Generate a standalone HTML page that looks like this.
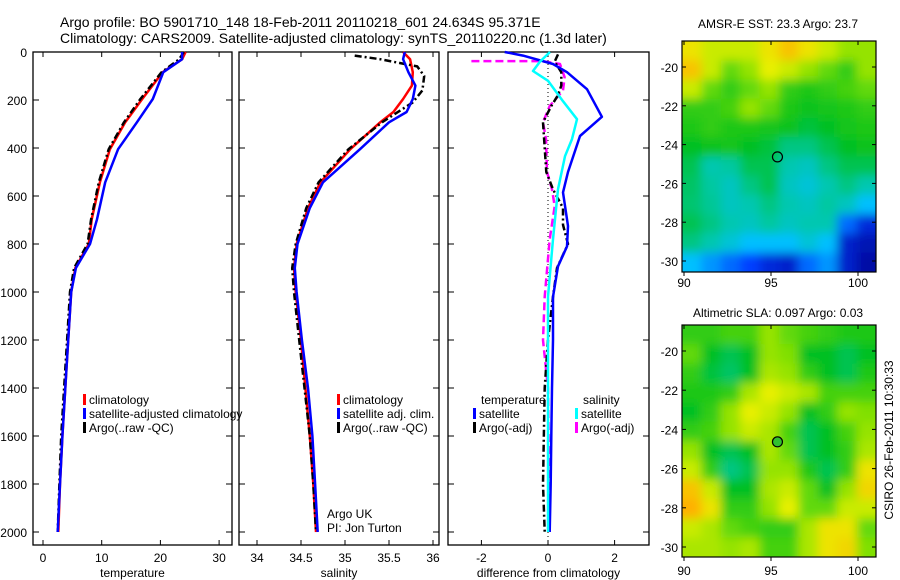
<!DOCTYPE html>
<html><head><meta charset="utf-8">
<style>
body{margin:0;background:#fff;}
svg{display:block;font-family:"Liberation Sans",sans-serif;}
text{fill:#000;}
</style></head>
<body>
<svg id="chart" width="900" height="580" xmlns="http://www.w3.org/2000/svg">
<defs>
<filter id="blur" x="-10%" y="-10%" width="120%" height="120%"><feGaussianBlur stdDeviation="5"/></filter>
<clipPath id="clip1"><rect x="682" y="41" width="194" height="231"/></clipPath>
<clipPath id="clip2"><rect x="682" y="325" width="194" height="232"/></clipPath>
</defs>
<text x="60" y="27" font-size="14">Argo profile: BO 5901710_148 18-Feb-2011 20110218_601 24.634S 95.371E</text>
<text x="60" y="43" font-size="14">Climatology: CARS2009. Satellite-adjusted climatology: synTS_20110220.nc (1.3d later)</text>
<text x="778" y="28" font-size="12" text-anchor="middle">AMSR-E SST: 23.3 Argo: 23.7</text>
<text x="778" y="317" font-size="12" text-anchor="middle">Altimetric SLA: 0.097 Argo: 0.03</text>
<text transform="translate(893,440) rotate(-90)" font-size="12" text-anchor="middle">CSIRO 26-Feb-2011 10:30:33</text>
<g id="plots"></g>
</svg>
<script>
const tDepth = [0,30,84,196,293,405,543,697,800,900,1000,1200,1400,1600,1800,2000];
const tempClim = [24.3,23.7,20.4,16.9,14.0,11.4,9.7,8.3,7.8,5.5,4.8,4.3,3.8,3.3,2.9,2.6];
const tempSat  = [23.7,23.7,20.5,18.7,16.0,12.8,10.6,9.2,8.0,5.6,4.8,4.3,3.8,3.3,2.9,2.5];
const tempArgo = [24.0,23.2,20.2,16.6,13.8,11.2,9.5,8.2,7.6,5.3,4.6,4.1,3.6,3.1,2.8,2.5];

const sDepth = [0,30,84,140,196,250,293,405,543,650,800,900,1000,1200,1400,1600,1800,2000];
const salClim = [35.66,35.74,35.77,35.76,35.66,35.55,35.40,35.06,34.72,34.58,34.45,34.42,34.44,34.50,34.55,34.60,34.64,34.67];
const salSat  = [35.68,35.66,35.72,35.80,35.77,35.70,35.50,35.17,34.75,34.60,34.46,34.43,34.45,34.51,34.58,34.63,34.66,34.69];
const aDepth = [15,30,60,100,160,210,293,405,543,650,800,900,1000,1200,1400,1600,1800,2000];
const salArgo = [35.11,35.40,35.82,35.90,35.88,35.77,35.42,35.04,34.70,34.56,34.44,34.40,34.42,34.48,34.54,34.60,34.64,34.67];

const dDepth = [0,15,50,84,155,270,350,500,585,725,810,893,1020,1200,1400,1600,1800,2000];
const dTempSat = [-1.3,-0.75,0.15,0.57,1.17,1.62,0.96,0.6,0.45,0.6,0.57,0.3,0.15,0.15,0.12,0.1,0.08,0.05];
const cDepth = [0,40,79,120,205,280,363,434,572,780,1020,1400,2000];
const dSalSat = [0.06,-0.24,-0.45,0.0,0.45,0.87,0.72,0.51,0.3,0.15,0.0,0.0,0.0];
const mDepth = [38,38,50,105,160,225,293,363,500,572,643,780,1020,1200,1400,2000];
const dSalArgo = [-2.3,-0.2,0.36,0.5,0.45,0.05,-0.15,-0.06,-0.03,0.12,0.2,0.05,-0.1,-0.15,0.0,0.05];
const kDepth = [10,40,84,140,180,225,293,400,500,572,650,720,800,900,1020,1200,1400,1800,2000];
const dTempArgo = [0.3,0.2,0.4,0.4,0.3,0.1,-0.15,-0.1,-0.05,0.15,0.45,0.45,0.6,0.27,0.15,0.0,-0.1,-0.15,-0.1];

const depthTicks = [0,200,400,600,800,1000,1200,1400,1600,1800,2000];
const tempTicks = [0,10,20,30];
const salTicks = [34,34.5,35,35.5,36];
const diffTicks = [-2,0,2];

const sstGrid = [
[0.8,0.75,0.75,0.75,0.8,0.85,0.8,0.75,0.7,0.7],
[0.85,0.75,0.65,0.7,0.78,0.75,0.7,0.65,0.6,0.7],
[0.75,0.65,0.6,0.65,0.7,0.6,0.58,0.6,0.62,0.65],
[0.6,0.6,0.62,0.7,0.65,0.58,0.56,0.57,0.58,0.6],
[0.58,0.6,0.58,0.58,0.57,0.56,0.52,0.55,0.57,0.58],
[0.55,0.56,0.57,0.55,0.52,0.45,0.45,0.5,0.55,0.56],
[0.5,0.4,0.42,0.5,0.5,0.4,0.38,0.45,0.5,0.5],
[0.48,0.42,0.38,0.45,0.5,0.38,0.35,0.4,0.45,0.4],
[0.47,0.43,0.38,0.4,0.45,0.4,0.38,0.42,0.38,0.3],
[0.5,0.45,0.4,0.38,0.42,0.38,0.4,0.4,0.2,0.1],
[0.45,0.4,0.35,0.3,0.3,0.3,0.35,0.3,0.08,0.05],
[0.3,0.25,0.2,0.15,0.1,0.08,0.2,0.25,0.08,0.03]];
const slaGrid = [
[0.6,0.6,0.62,0.62,0.7,0.65,0.62,0.6,0.58,0.58],
[0.65,0.55,0.5,0.55,0.7,0.68,0.55,0.55,0.5,0.55],
[0.6,0.52,0.48,0.55,0.72,0.7,0.6,0.55,0.5,0.58],
[0.58,0.58,0.6,0.72,0.78,0.75,0.72,0.62,0.62,0.62],
[0.55,0.6,0.7,0.78,0.75,0.7,0.55,0.6,0.7,0.68],
[0.6,0.62,0.7,0.75,0.72,0.62,0.5,0.55,0.62,0.7],
[0.7,0.55,0.5,0.55,0.72,0.65,0.5,0.55,0.6,0.72],
[0.75,0.6,0.45,0.5,0.7,0.7,0.58,0.5,0.6,0.8],
[0.85,0.75,0.55,0.55,0.72,0.75,0.65,0.55,0.7,0.82],
[0.88,0.8,0.6,0.6,0.7,0.78,0.65,0.65,0.75,0.75],
[0.75,0.72,0.65,0.62,0.6,0.6,0.72,0.8,0.8,0.65],
[0.72,0.72,0.7,0.72,0.62,0.62,0.72,0.8,0.82,0.68]];
const lonTicks = [90,95,100];
const latTicks = [-20,-22,-24,-26,-28,-30];
const argoLon = 95.371, argoLat = -24.634;

const NS = "http://www.w3.org/2000/svg";
const root = document.getElementById('plots');
function mk(tag, attrs, parent){
  const e = document.createElementNS(NS, tag);
  for (const k in attrs) e.setAttribute(k, attrs[k]);
  (parent||root).appendChild(e);
  return e;
}
const top0 = 52, bot0 = 545;
const yD = d => 52 + d * 0.24;

function panel(name, x0, x1, xScale, ticks, label, depthLabels){
  const g = mk('g', {});
  
  
  const fr = mk('rect', {x:x0, y:top0, width:x1-x0, height:bot0-top0, fill:'none', stroke:'#000', 'stroke-width':1.3}, g);
  
  
  depthTicks.forEach(d => {
    const y = yD(d);
    mk('line', {x1:x0, x2:x0+6, y1:y, y2:y, stroke:'#000'}, g);
    mk('line', {x1:x1-6, x2:x1, y1:y, y2:y, stroke:'#000'}, g);
    if (depthLabels) {
      const t = mk('text', {x:x0-6, y:y+5, 'font-size':12, 'text-anchor':'end'}, g);
      t.textContent = d;
      
      
    }
  });
  ticks.forEach(v => {
    const x = xScale(v);
    mk('line', {x1:x, x2:x, y1:top0, y2:top0+5, stroke:'#000'}, g);
    mk('line', {x1:x, x2:x, y1:bot0-5, y2:bot0, stroke:'#000'}, g);
    const t = mk('text', {x:x, y:562, 'font-size':12, 'text-anchor':'middle'}, g);
    t.textContent = v;
    
    
  });
  const lt = mk('text', {x:(x0+x1)/2, y:577, 'font-size':12, 'text-anchor':'middle'}, g);
  lt.textContent = label;
  
  
  return g;
}
function line(g, name, xs, ds, xScale, color, dash, w){
  const pts = xs.map((v,i) => xScale(v).toFixed(1) + ',' + yD(ds[i]).toFixed(1)).join(' ');
  const p = mk('polyline', {points:pts, fill:'none', stroke:color, 'stroke-width':w||2.5, 'stroke-linejoin':'round'}, g);
  if (dash) p.setAttribute('stroke-dasharray', dash);
  
  
}
function legend(g, x, y, color, label, name){
  const b = mk('rect', {x:x, y:y-10, width:3, height:11, fill:color}, g);
  
  
  const t = mk('text', {x:x+6, y:y, 'font-size':12}, g);
  t.textContent = label;
  
  
}
const DASH = '7,3,2,3';

const xT = v => 43 + v * 5.87;
const g1 = panel('temperature-panel', 33, 232, xT, tempTicks, 'temperature', true);
line(g1, 'temp-climatology-line', tempClim, tDepth, xT, '#f00');
line(g1, 'temp-argo-line', tempArgo, tDepth, xT, '#000', DASH);
line(g1, 'temp-satellite-line', tempSat, tDepth, xT, '#00f');
legend(g1, 83, 404, '#f00', 'climatology', 'legend-climatology');
legend(g1, 83, 418, '#00f', 'satellite-adjusted climatology', 'legend-satellite');
legend(g1, 83, 432, '#000', 'Argo(..raw -QC)', 'legend-argo');

const xS = v => 257 + (v - 34) * 88;
const g2 = panel('salinity-panel', 239, 439, xS, salTicks, 'salinity', false);
line(g2, 'sal-climatology-line', salClim, sDepth, xS, '#f00');
line(g2, 'sal-argo-line', salArgo, aDepth, xS, '#000', DASH);
line(g2, 'sal-satellite-line', salSat, sDepth, xS, '#00f');
legend(g2, 337, 404, '#f00', 'climatology', 'legend-sal-climatology');
legend(g2, 337, 418, '#00f', 'satellite adj. clim.', 'legend-sal-satellite');
legend(g2, 337, 432, '#000', 'Argo(..raw -QC)', 'legend-sal-argo');
const au = mk('text', {x:327, y:518, 'font-size':12}, g2); au.textContent = 'Argo UK';


const pi = mk('text', {x:327, y:532, 'font-size':12}, g2); pi.textContent = 'PI: Jon Turton';



const xDf = v => 548 + v * 33.3;
const g3 = panel('difference-panel', 448, 649, xDf, diffTicks, 'difference from climatology', false);
const zl = mk('line', {x1:xDf(0), x2:xDf(0), y1:top0, y2:bot0, stroke:'#000', 'stroke-dasharray':'1,3'}, g3);


line(g3, 'diff-sal-argo-line', dSalArgo, mDepth, xDf, '#f0f', '8,4');
line(g3, 'diff-temp-argo-line', dTempArgo, kDepth, xDf, '#000', DASH);
line(g3, 'diff-temp-satellite-line', dTempSat, dDepth, xDf, '#00f');
line(g3, 'diff-sal-satellite-line', dSalSat, cDepth, xDf, '#0ff');
const tt = mk('text', {x:481, y:404, 'font-size':12}, g3); tt.textContent = 'temperature';


const st = mk('text', {x:583, y:404, 'font-size':12}, g3); st.textContent = 'salinity';


legend(g3, 473, 418, '#00f', 'satellite', 'legend-diff-temp-satellite');
legend(g3, 473, 432, '#000', 'Argo(-adj)', 'legend-diff-temp-argo');
legend(g3, 575, 418, '#0ff', 'satellite', 'legend-diff-sal-satellite');
legend(g3, 575, 432, '#f0f', 'Argo(-adj)', 'legend-diff-sal-argo');

const stops = [[0,[0,0,143]],[0.15,[0,64,255]],[0.3,[0,192,255]],[0.42,[0,200,160]],[0.55,[0,192,32]],[0.68,[128,224,0]],[0.78,[232,240,0]],[0.88,[255,176,0]],[1,[255,128,0]]];
function cmap(v){
  for (let i=1;i<stops.length;i++){
    if (v <= stops[i][0]){
      const a=stops[i-1], b=stops[i], t=(v-a[0])/(b[0]-a[0]);
      return 'rgb(' + a[1].map((c,j)=>Math.round(c+(b[1][j]-c)*t)).join(',') + ')';
    }
  }
  return 'rgb(255,128,0)';
}
function map(name, grid, x0, y0, w, h, clip, latTop, latBot, xlabY){
  const g = mk('g', {});
  
  
  const inner = mk('g', {'clip-path':'url(#' + clip + ')'}, g);
  const img = mk('g', {filter:'url(#blur)'}, inner);
  const rows = grid.length, cols = grid[0].length;
  const cw = w/cols, ch = h/rows;
  grid.forEach((row, r) => row.forEach((v, c) => {
    const cell = mk('rect', {x:x0 + c*cw - (c===0?10:0), y:y0 + r*ch - (r===0?10:0), width:cw + 1 + (c===0||c===cols-1?10:0), height:ch + 1 + (r===0||r===rows-1?10:0), fill:cmap(v)}, img);
    
    
  }));
  const fr = mk('rect', {x:x0, y:y0, width:w, height:h, fill:'none', stroke:'#000', 'stroke-width':1.2}, g);
  
  
  const lonX = lon => 684 + (lon - 90) * 17.4;
  const latY = lat => latTop + (lat + 20) / -10 * (latBot - latTop);
  lonTicks.forEach(lon => {
    const x = lonX(lon);
    mk('line', {x1:x, x2:x, y1:y0+h, y2:y0+h+4, stroke:'#000'}, g);
    mk('line', {x1:x, x2:x, y1:y0, y2:y0+4, stroke:'#000'}, g);
    const t = mk('text', {x:x, y:xlabY, 'font-size':12, 'text-anchor':'middle'}, g);
    t.textContent = lon;
    
    
  });
  latTicks.forEach(lat => {
    const y = latY(lat);
    mk('line', {x1:x0+w-4, x2:x0+w, y1:y, y2:y, stroke:'#000'}, g);
    mk('line', {x1:x0, x2:x0+4, y1:y, y2:y, stroke:'#000'}, g);
    const t = mk('text', {x:x0-4, y:y+5, 'font-size':12, 'text-anchor':'end'}, g);
    t.textContent = lat;
    
    
  });
  const m = mk('circle', {cx:lonX(argoLon), cy:latY(argoLat), r:5, fill:'none', stroke:'#000', 'stroke-width':1.2}, g);
  
  
  return m;
}
map('sst-map', sstGrid, 682, 41, 194, 231, 'clip1', 67, 261, 287);
const m2 = map('sla-map', slaGrid, 682, 325, 194, 232, 'clip2', 351, 547, 575);
m2.setAttribute('fill', '#30c030');
</script>
</body></html>
